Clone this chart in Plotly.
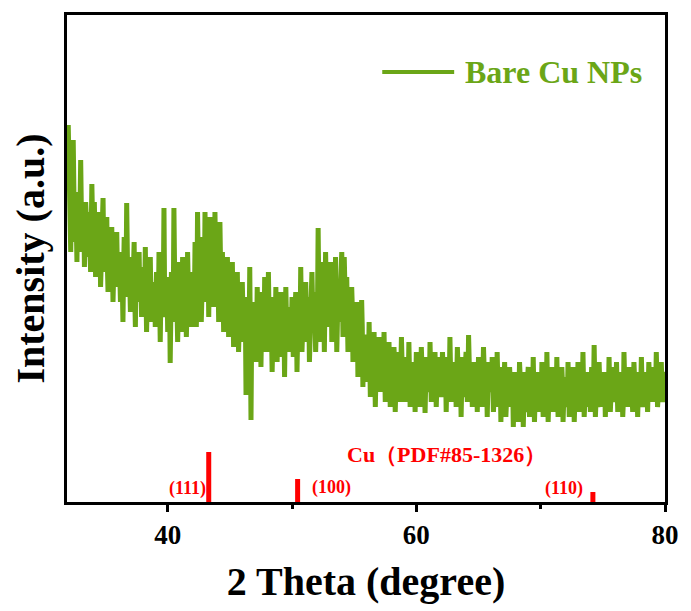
import plotly.graph_objects as go

# 2-theta sampling: main readings at 32.0, 32.1, ... 80.0 and
# intermediate readings at 32.05, 32.15, ... 79.95
two_theta_start = 32.0
two_theta_step = 0.1

# Intensity (a.u.) at 32.0 + 0.1*i (one row per degree)
intensity_main = [
    377, 300, 250, 330, 362, 260, 300, 240, 310, 280,
    342, 250, 290, 235, 300, 270, 245, 280, 230, 318,
    260, 300, 225, 270, 240, 290, 215, 250, 304, 230,
    240, 285, 210, 260, 230, 275, 200, 255, 225, 270,
    215, 250, 200, 240, 180, 265, 220, 299, 205, 245,
    190, 240, 210, 260, 175, 230, 200, 250, 215, 185,
    235, 195, 255, 170, 225, 205, 245, 180, 220, 200,
    175, 230, 200, 250, 160, 215, 185, 294, 195, 225,
    170, 215, 139, 230, 195, 294, 180, 225, 160, 240,
    200, 170, 245, 185, 225, 165, 250, 190, 215, 175,
    230, 190, 260, 175, 290, 205, 240, 180, 265, 200,
    290, 210, 255, 185, 285, 220, 265, 195, 290, 215,
    240, 180, 280, 200, 250, 170, 230, 190, 245, 165,
    215, 175, 240, 155, 210, 185, 230, 150, 200, 175,
    220, 160, 195, 107, 205, 150, 235, 82, 190, 165,
    200, 140, 215, 165, 185, 135, 210, 160, 225, 150,
    180, 230, 150, 205, 130, 190, 165, 215, 140, 200,
    170, 210, 145, 190, 125, 215, 160, 195, 150, 175,
    205, 145, 180, 210, 130, 195, 165, 235, 150, 200,
    175, 220, 160, 205, 140, 190, 230, 170, 210, 150,
    195, 274, 160, 240, 180, 215, 150, 250, 185, 220,
    175, 240, 160, 225, 195, 245, 150, 210, 180, 230,
    250, 165, 245, 190, 225, 150, 205, 175, 215, 140,
    190, 155, 200, 125, 175, 145, 202, 115, 165, 135,
    160, 120, 180, 105, 150, 130, 170, 95, 145, 115,
    165, 110, 150, 125, 170, 100, 140, 120, 160, 95,
    140, 115, 155, 90, 135, 110, 150, 100, 165, 120,
    130, 100, 145, 115, 160, 95, 140, 110, 125, 90,
    150, 105, 135, 95, 155, 115, 130, 89, 145, 110,
    125, 160, 100, 140, 115, 150, 95, 130, 110, 145,
    105, 150, 120, 135, 90, 145, 110, 165, 100, 130,
    115, 140, 95, 155, 120, 130, 85, 145, 105, 125,
    150, 100, 167, 115, 135, 95, 140, 110, 125, 90,
    145, 105, 130, 95, 155, 115, 135, 85, 140, 110,
    120, 145, 90, 130, 100, 150, 95, 125, 80, 135,
    105, 140, 85, 120, 95, 135, 100, 115, 75, 130,
    95, 125, 80, 140, 100, 115, 75, 130, 90, 110,
    135, 85, 120, 95, 145, 80, 115, 100, 130, 90,
    110, 140, 85, 125, 95, 150, 80, 120, 105, 135,
    90, 130, 100, 145, 85, 120, 95, 135, 80, 115,
    125, 95, 140, 85, 120, 100, 135, 80, 115, 95,
    140, 90, 125, 100, 150, 85, 120, 95, 130, 105,
    90, 135, 100, 157, 85, 125, 95, 140, 100, 120,
    95, 130, 85, 125, 105, 145, 90, 120, 100, 135,
    110, 140, 90, 130, 95, 125, 85, 150, 100, 120,
    95, 135, 105, 125, 90, 140, 100, 120, 85, 130,
    115, 145, 95, 130, 100, 120, 90, 140, 105, 125,
    100, 135, 110, 150, 95, 125, 105, 140, 100, 130,
    120,
]

# Intensity (a.u.) at 32.05 + 0.1*i (one row per degree)
intensity_mid = [
    320, 285, 295, 270, 315, 290, 275, 300, 265, 295,
    280, 265, 300, 255, 285, 260, 290, 250, 275, 285,
    265, 245, 275, 240, 260, 270, 235, 265, 255, 245,
    255, 235, 250, 230, 260, 240, 225, 250, 245, 235,
    235, 225, 240, 215, 230, 245, 220, 240, 225, 230,
    220, 210, 235, 205, 225, 215, 230, 210, 220, 205,
    215, 205, 225, 200, 210, 220, 200, 215, 205, 210,
    200, 215, 195, 220, 205, 195, 215, 210, 200, 215,
    195, 210, 185, 215, 200, 220, 195, 205, 190, 215,
    210, 195, 220, 200, 205, 190, 225, 200, 210, 195,
    215, 205, 230, 200, 240, 215, 225, 205, 235, 215,
    250, 225, 240, 215, 255, 230, 245, 220, 250, 230,
    225, 205, 235, 210, 225, 200, 220, 210, 215, 195,
    200, 190, 205, 180, 195, 190, 200, 175, 190, 185,
    190, 175, 185, 160, 185, 170, 195, 165, 180, 175,
    185, 165, 190, 175, 180, 165, 185, 170, 190, 170,
    180, 190, 170, 185, 160, 180, 175, 190, 165, 180,
    175, 185, 165, 180, 160, 185, 170, 180, 165, 175,
    185, 170, 180, 190, 165, 185, 175, 200, 170, 185,
    180, 195, 175, 190, 170, 185, 200, 180, 195, 175,
    195, 220, 185, 210, 195, 205, 180, 215, 195, 205,
    195, 215, 185, 205, 200, 215, 180, 200, 195, 210,
    210, 185, 215, 195, 200, 180, 195, 185, 195, 170,
    180, 165, 185, 155, 170, 160, 175, 145, 165, 150,
    150, 135, 155, 130, 145, 135, 150, 125, 140, 130,
    140, 125, 135, 130, 145, 120, 135, 125, 140, 120,
    130, 120, 140, 115, 130, 125, 135, 120, 140, 125,
    125, 115, 130, 120, 135, 115, 125, 120, 125, 115,
    130, 115, 125, 115, 135, 120, 125, 110, 130, 120,
    120, 135, 115, 130, 120, 135, 115, 125, 120, 130,
    115, 135, 125, 130, 110, 130, 120, 140, 115, 125,
    120, 130, 110, 135, 120, 125, 110, 130, 115, 125,
    130, 115, 140, 120, 125, 110, 130, 120, 125, 110,
    130, 115, 125, 110, 135, 120, 125, 105, 125, 115,
    115, 130, 105, 120, 110, 130, 110, 120, 100, 120,
    110, 125, 100, 115, 105, 120, 110, 115, 100, 115,
    105, 115, 100, 125, 110, 115, 95, 120, 105, 110,
    120, 100, 115, 105, 125, 100, 110, 105, 120, 105,
    110, 125, 100, 115, 105, 130, 100, 115, 110, 120,
    105, 120, 110, 125, 100, 115, 105, 120, 100, 110,
    115, 105, 125, 100, 115, 110, 120, 100, 110, 105,
    125, 105, 115, 110, 130, 100, 115, 105, 120, 110,
    105, 120, 110, 135, 100, 115, 105, 125, 110, 115,
    105, 120, 100, 115, 110, 125, 105, 115, 110, 120,
    115, 125, 105, 120, 110, 115, 100, 130, 110, 115,
    105, 120, 110, 115, 105, 125, 110, 115, 100, 120,
    115, 130, 105, 120, 110, 115, 105, 125, 110, 120,
    110, 125, 115, 130, 105, 120, 110, 125, 110, 120,
]

# merge the two sets of readings in 2-theta order
two_theta, intensity = [], []
for i, v in enumerate(intensity_main):
    two_theta.append(round(two_theta_start + i * two_theta_step, 2))
    intensity.append(v)
    if i < len(intensity_mid):
        two_theta.append(round(two_theta_start + i * two_theta_step + two_theta_step / 2, 2))
        intensity.append(intensity_mid[i])

# Cu reference pattern (PDF#85-1326)
ref_positions = [43.3, 50.45, 74.2]
ref_heights = [50, 23, 10]
ref_labels = ["(111)", "(100)", "(110)"]
ref_label_x = [41.6, 53.2, 71.9]
ref_label_y = [14, 15, 14]

series_name = "Bare Cu NPs"
ref_title = "Cu（PDF#85-1326）"

green = "#6ba617"
red = "#ff0000"
serif = "Liberation Serif"

L, R, T, B = 67, 17, 15, 109
W, H = 691, 611
pw, ph = W - L - R, H - T - B

fig = go.Figure()
fig.add_trace(go.Scatter(x=two_theta, y=intensity, mode="lines",
                         line=dict(color=green, width=5), name=series_name,
                         showlegend=False))

rx, ry = [], []
for p, h in zip(ref_positions, ref_heights):
    rx += [p, p, None]
    ry += [0, h, None]
fig.add_trace(go.Scatter(x=rx, y=ry, mode="lines", line=dict(color=red, width=5),
                         showlegend=False, hoverinfo="skip"))

for lab, lx, ly in zip(ref_labels, ref_label_x, ref_label_y):
    fig.add_annotation(x=lx, y=ly, text=lab, showarrow=False,
                       font=dict(family=serif, size=18, color=red, weight="bold"),
                       xanchor="center", yanchor="middle")
fig.add_annotation(x=54.25, y=48, text=ref_title, showarrow=False,
                   font=dict(family=serif, size=22, color=red, weight="bold"),
                   xanchor="left", yanchor="middle")

# legend drawn by hand
ly_p = (H - B - 72) / ph
fig.add_shape(type="line", xref="paper", yref="paper",
              x0=(387 - L) / pw, x1=(460 - L) / pw, y0=ly_p, y1=ly_p,
              line=dict(color=green, width=4))
fig.add_annotation(xref="paper", yref="paper", x=(469 - L) / pw, y=ly_p,
                   text=series_name, showarrow=False, xanchor="left", yanchor="middle",
                   font=dict(family=serif, size=32, color=green, weight="bold"))

fig.update_layout(
    width=W, height=H,
    margin=dict(l=L, r=R, t=T, b=B),
    paper_bgcolor="white", plot_bgcolor="white",
    font=dict(family=serif, color="black"),
)
fig.update_xaxes(range=[31.9, 80], showline=True, linewidth=3, linecolor="black",
                 mirror=True, showgrid=False, zeroline=False,
                 tickmode="array", tickvals=[40, 60, 80],
                 ticks="outside", ticklen=7, tickwidth=3, tickcolor="black",
                 minor=dict(tickvals=[50, 70], ticks="outside", ticklen=4,
                            tickwidth=3, tickcolor="black"),
                 tickfont=dict(family=serif, size=27, weight="bold"),
                 title=dict(text="2 Theta (degree)", standoff=18,
                            font=dict(family=serif, size=40, weight="bold")))
fig.update_yaxes(range=[0, ph], showline=True, linewidth=3, linecolor="black",
                 mirror=True, showgrid=False, zeroline=False,
                 showticklabels=False, ticks="",
                 title=dict(text="Intensity (a.u.)", standoff=8,
                            font=dict(family=serif, size=40, weight="bold")))

fig.write_html("out.html")
